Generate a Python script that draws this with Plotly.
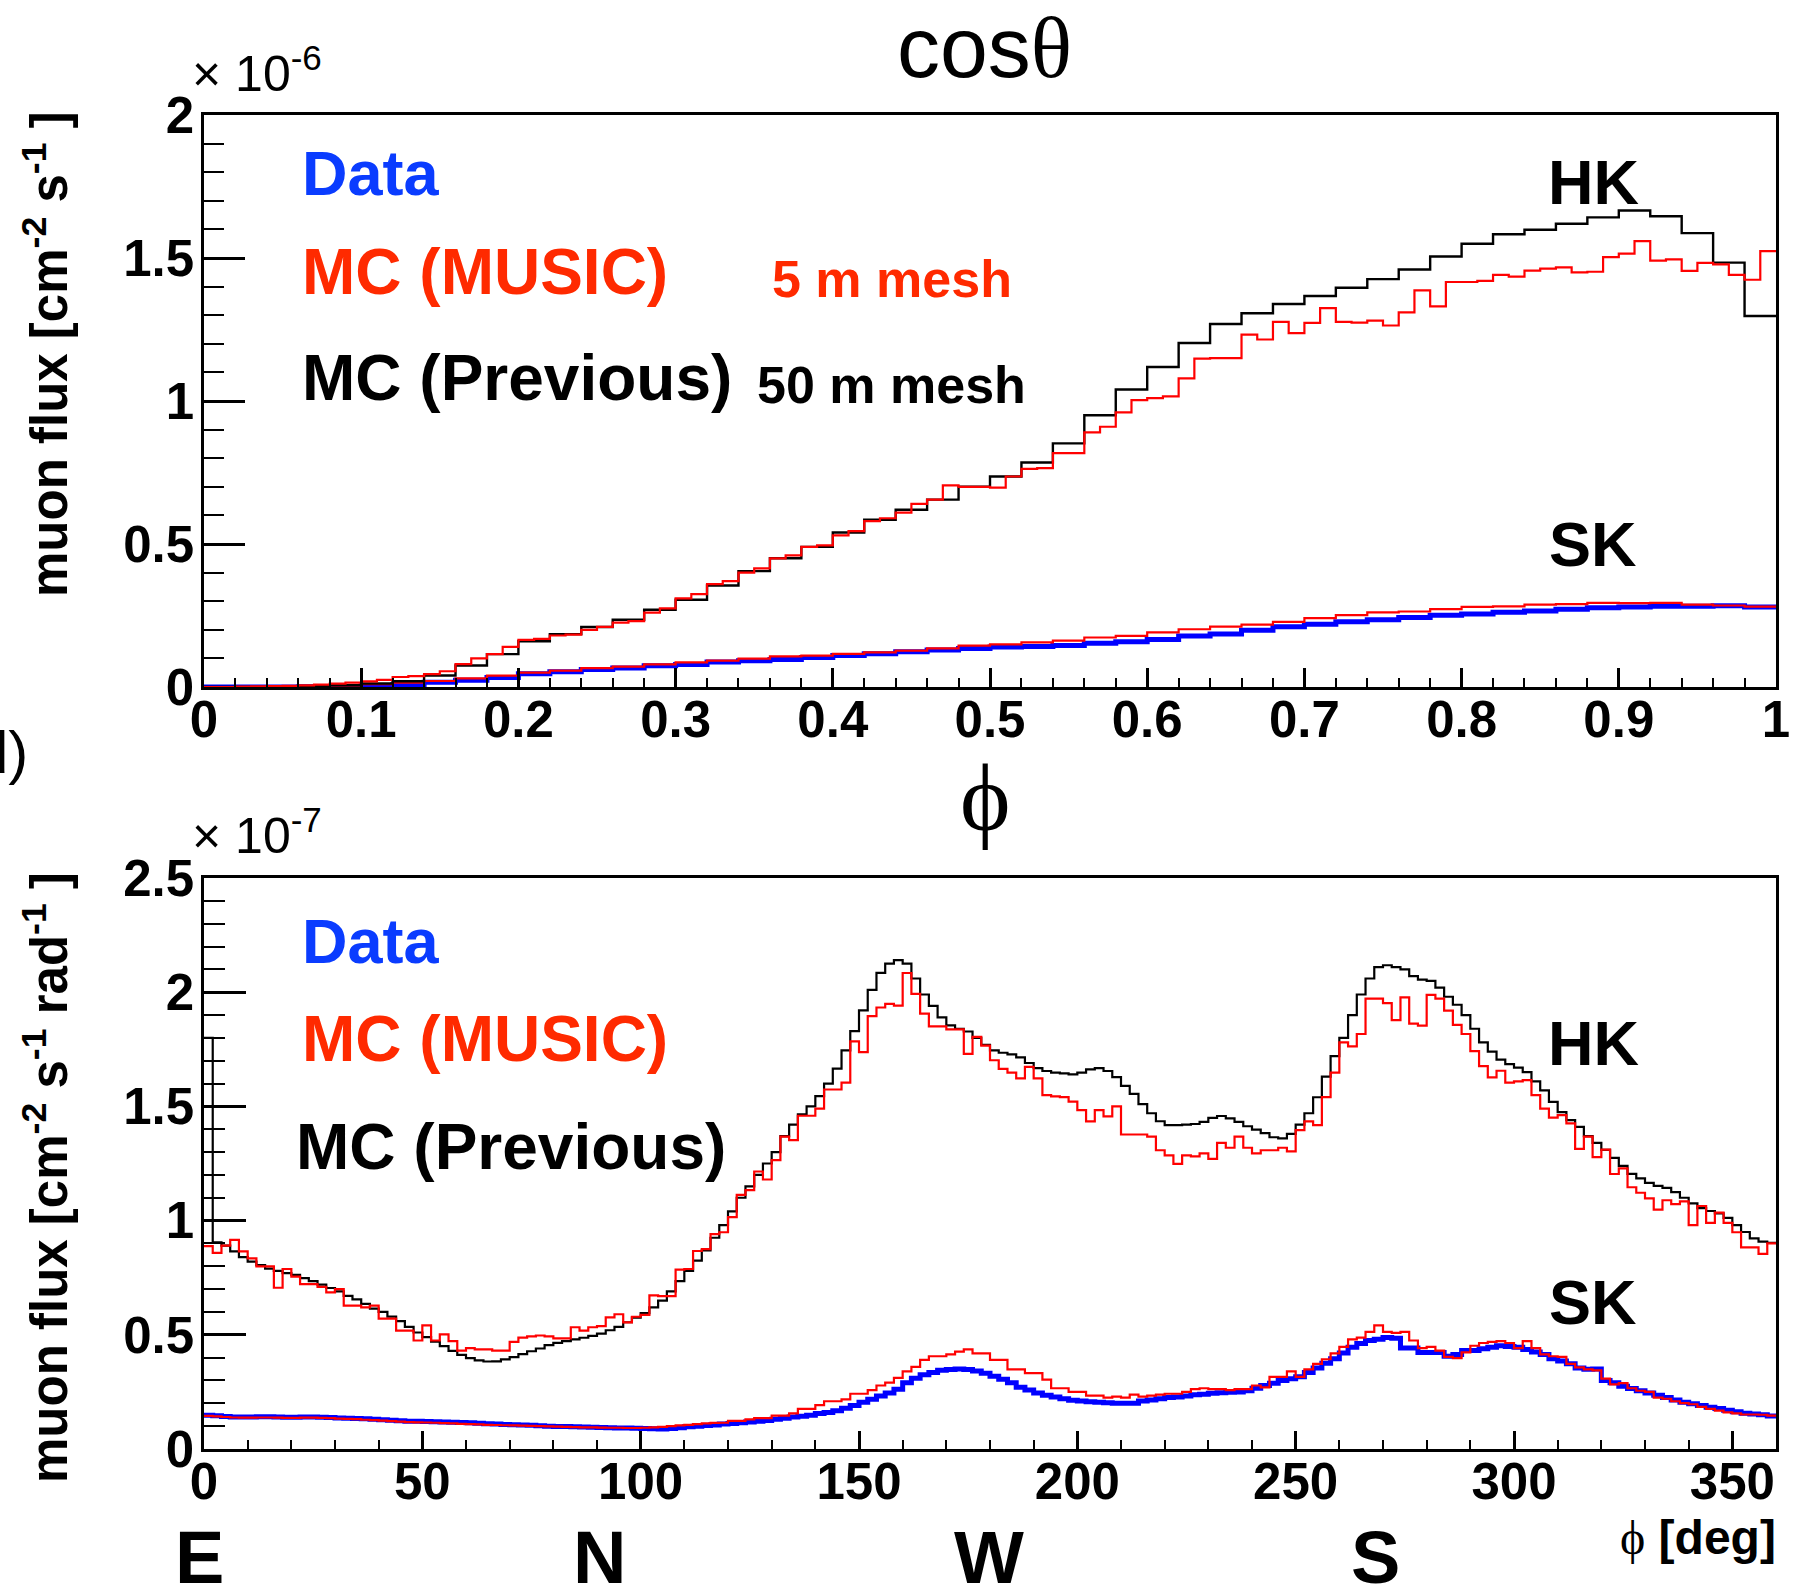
import plotly.graph_objects as go

# ---------------- data : top panel (cos theta), units 1e-6 cm^-2 s^-1 ----------------
cos_hk_prev_lo, cos_hk_prev_w = 0.0, 0.02
cos_hk_prev = [0.0, 0.0, 0.002, 0.004, 0.006, 0.012, 0.02, 0.04, 0.075, 0.115,
               0.16, 0.185, 0.21, 0.235, 0.27, 0.305, 0.355, 0.405, 0.45, 0.49,
               0.54, 0.585, 0.62, 0.655, 0.70, 0.736, 0.785, 0.852, 0.95, 1.04,
               1.119, 1.203, 1.269, 1.307, 1.339, 1.367, 1.396, 1.426, 1.46, 1.505,
               1.55, 1.583, 1.599, 1.62, 1.642, 1.666, 1.646, 1.587, 1.484, 1.297]

cos_hk_music_lo, cos_hk_music_w = 0.0, 0.01
cos_hk_music = [0.0, 0.0, 0.001, 0.002, 0.003, 0.004, 0.006, 0.008, 0.012, 0.015,
                0.02, 0.025, 0.035, 0.038, 0.045, 0.055, 0.08, 0.10, 0.115, 0.14,
                0.165, 0.168, 0.18, 0.183, 0.20, 0.21, 0.225, 0.23, 0.26, 0.275,
                0.31, 0.325, 0.36, 0.37, 0.40, 0.415, 0.45, 0.46, 0.49, 0.495,
                0.53, 0.545, 0.58, 0.59, 0.61, 0.64, 0.655, 0.705, 0.70, 0.70,
                0.697, 0.736, 0.763, 0.765, 0.818, 0.818, 0.89, 0.91, 0.96, 1.003,
                1.01, 1.016, 1.079, 1.148, 1.15, 1.15, 1.232, 1.215, 1.277, 1.237,
                1.273, 1.325, 1.277, 1.274, 1.281, 1.264, 1.31, 1.387, 1.331, 1.416,
                1.416, 1.42, 1.441, 1.435, 1.456, 1.463, 1.467, 1.45, 1.452, 1.503,
                1.515, 1.559, 1.491, 1.495, 1.455, 1.483, 1.478, 1.441, 1.424, 1.524]

cos_sk_data_lo, cos_sk_data_w = 0.0, 0.02
cos_sk_data = [0.0, 0.0, 0.0, 0.001, 0.002, 0.004, 0.008, 0.017, 0.024, 0.033,
               0.046, 0.053, 0.061, 0.066, 0.074, 0.079, 0.087, 0.092, 0.096, 0.103,
               0.11, 0.116, 0.123, 0.129, 0.135, 0.14, 0.142, 0.145, 0.153, 0.158,
               0.166, 0.178, 0.185, 0.198, 0.211, 0.219, 0.228, 0.235, 0.243, 0.251,
               0.255, 0.261, 0.266, 0.272, 0.277, 0.28, 0.282, 0.282, 0.284, 0.28]

cos_sk_music_lo, cos_sk_music_w = 0.0, 0.02
cos_sk_music = [0.0, 0.0, 0.001, 0.002, 0.005, 0.01, 0.015, 0.021, 0.03, 0.04,
                0.05, 0.057, 0.066, 0.071, 0.079, 0.086, 0.092, 0.099, 0.107, 0.11,
                0.116, 0.121, 0.127, 0.135, 0.145, 0.149, 0.156, 0.162, 0.173, 0.179,
                0.191, 0.202, 0.211, 0.218, 0.228, 0.241, 0.251, 0.261, 0.264, 0.272,
                0.28, 0.282, 0.288, 0.29, 0.294, 0.293, 0.294, 0.288, 0.285, 0.281]

# ---------------- data : bottom panel (phi), units 1e-7 cm^-2 s^-1 rad^-1 ----------------
phi_lo, phi_w = 0.0, 2.0
phi_hk_prev = [1.80, 0.905, 0.89, 0.865, 0.84, 0.82, 0.805, 0.79, 0.78, 0.77,
               0.762, 0.748, 0.735, 0.72, 0.705, 0.69, 0.67, 0.655, 0.635, 0.615,
               0.60, 0.58, 0.56, 0.535, 0.51, 0.49, 0.47, 0.45, 0.43, 0.412,
               0.398, 0.388, 0.383, 0.384, 0.392, 0.402, 0.415, 0.428, 0.44, 0.455,
               0.465, 0.472, 0.48, 0.487, 0.495, 0.505, 0.52, 0.535, 0.555, 0.575,
               0.595, 0.62, 0.65, 0.69, 0.735, 0.78, 0.825, 0.87, 0.925, 0.98,
               1.04, 1.10, 1.15, 1.20, 1.25, 1.30, 1.37, 1.42, 1.465, 1.50,
               1.545, 1.60, 1.665, 1.745, 1.83, 1.92, 2.01, 2.085, 2.125, 2.14,
               2.125, 2.06, 1.99, 1.94, 1.89, 1.855, 1.84, 1.828, 1.80, 1.77,
               1.745, 1.735, 1.728, 1.715, 1.69, 1.668, 1.655, 1.648, 1.645, 1.64,
               1.648, 1.662, 1.668, 1.655, 1.628, 1.59, 1.555, 1.51, 1.47, 1.435,
               1.418, 1.418, 1.42, 1.423, 1.432, 1.45, 1.458, 1.448, 1.432, 1.413,
               1.398, 1.383, 1.365, 1.36, 1.38, 1.42, 1.47, 1.54, 1.63, 1.72,
               1.80, 1.90, 1.99, 2.06, 2.11, 2.118, 2.11, 2.10, 2.07, 2.055,
               2.05, 2.02, 1.98, 1.945, 1.90, 1.84, 1.78, 1.74, 1.705, 1.685,
               1.67, 1.65, 1.61, 1.57, 1.52, 1.475, 1.44, 1.41, 1.37, 1.34,
               1.31, 1.275, 1.24, 1.205, 1.185, 1.165, 1.152, 1.143, 1.125, 1.10,
               1.075, 1.055, 1.042, 1.032, 1.012, 0.98, 0.95, 0.922, 0.908, 0.903]

phi_hk_music = [0.888, 0.859, 0.89, 0.916, 0.865, 0.835, 0.80, 0.80, 0.706, 0.788,
                0.755, 0.722, 0.722, 0.71, 0.686, 0.70, 0.628, 0.628, 0.62, 0.628,
                0.571, 0.571, 0.518, 0.518, 0.475, 0.541, 0.475, 0.502, 0.472, 0.431,
                0.442, 0.436, 0.436, 0.431, 0.431, 0.469, 0.488, 0.493, 0.497, 0.493,
                0.484, 0.484, 0.533, 0.518, 0.533, 0.538, 0.576, 0.59, 0.554, 0.579,
                0.587, 0.673, 0.669, 0.669, 0.785, 0.788, 0.867, 0.875, 0.941, 0.949,
                1.015, 1.113, 1.133, 1.215, 1.18, 1.265, 1.368, 1.352, 1.459, 1.459,
                1.49, 1.574, 1.574, 1.604, 1.785, 1.738, 1.895, 1.933, 1.949, 1.941,
                2.084, 1.993, 1.906, 1.85, 1.85, 1.837, 1.837, 1.73, 1.804, 1.766,
                1.702, 1.664, 1.648, 1.623, 1.673, 1.623, 1.549, 1.544, 1.541, 1.521,
                1.484, 1.434, 1.484, 1.456, 1.50, 1.377, 1.377, 1.377, 1.368, 1.308,
                1.286, 1.248, 1.286, 1.281, 1.294, 1.27, 1.34, 1.319, 1.368, 1.319,
                1.294, 1.308, 1.308, 1.319, 1.303, 1.396, 1.434, 1.418, 1.541, 1.648,
                1.78, 1.763, 1.817, 1.972, 1.972, 1.952, 1.878, 1.977, 1.862, 1.854,
                1.988, 1.972, 1.919, 1.857, 1.817, 1.742, 1.676, 1.627, 1.656, 1.604,
                1.61, 1.615, 1.549, 1.49, 1.451, 1.462, 1.426, 1.314, 1.368, 1.278,
                1.311, 1.204, 1.229, 1.146, 1.122, 1.097, 1.048, 1.089, 1.072, 1.084,
                0.98, 1.064, 0.99, 1.035, 0.99, 0.949, 0.883, 0.883, 0.854, 0.90]

phi_sk_data = [0.148, 0.146, 0.142, 0.14, 0.14, 0.14, 0.141, 0.141, 0.14, 0.139,
               0.139, 0.14, 0.14, 0.139, 0.138, 0.136, 0.135, 0.134, 0.132, 0.13,
               0.128, 0.126, 0.124, 0.122, 0.121, 0.12, 0.119, 0.118, 0.117, 0.116,
               0.115, 0.113, 0.111, 0.109, 0.107, 0.106, 0.105, 0.104, 0.102, 0.1,
               0.099, 0.098, 0.097, 0.096, 0.095, 0.094, 0.093, 0.092, 0.092, 0.091,
               0.09, 0.089, 0.088, 0.09, 0.093, 0.097, 0.1, 0.103, 0.105, 0.11,
               0.112, 0.115, 0.118, 0.122, 0.125, 0.13, 0.135, 0.14, 0.143, 0.148,
               0.155, 0.16, 0.168, 0.178, 0.19, 0.205, 0.218, 0.232, 0.245, 0.262,
               0.29, 0.31, 0.325, 0.335, 0.345, 0.348, 0.35, 0.348, 0.342, 0.332,
               0.318, 0.305, 0.29, 0.27, 0.258, 0.245, 0.235, 0.228, 0.22, 0.213,
               0.21, 0.207, 0.205, 0.202, 0.2, 0.2, 0.2, 0.21, 0.215, 0.22,
               0.225, 0.228, 0.232, 0.237, 0.24, 0.244, 0.246, 0.248, 0.25, 0.255,
               0.266, 0.278, 0.288, 0.30, 0.308, 0.316, 0.335, 0.355, 0.375, 0.395,
               0.42, 0.445, 0.462, 0.475, 0.48, 0.488, 0.485, 0.442, 0.442, 0.423,
               0.423, 0.423, 0.406, 0.414, 0.431, 0.431, 0.439, 0.445, 0.452, 0.449,
               0.445, 0.436, 0.425, 0.414, 0.395, 0.385, 0.373, 0.355, 0.349, 0.35,
               0.30, 0.29, 0.275, 0.265, 0.255, 0.245, 0.235, 0.225, 0.215, 0.205,
               0.198, 0.19, 0.183, 0.177, 0.17, 0.163, 0.157, 0.153, 0.15, 0.145]

phi_sk_music = [0.145, 0.143, 0.14, 0.138, 0.137, 0.137, 0.138, 0.138, 0.137, 0.136,
                0.136, 0.137, 0.137, 0.136, 0.135, 0.133, 0.132, 0.131, 0.128, 0.126,
                0.124, 0.122, 0.12, 0.118, 0.117, 0.116, 0.115, 0.113, 0.112, 0.11,
                0.109, 0.108, 0.106, 0.105, 0.104, 0.103, 0.102, 0.101, 0.1, 0.099,
                0.098, 0.097, 0.096, 0.095, 0.095, 0.094, 0.093, 0.093, 0.092, 0.092,
                0.093, 0.095, 0.097, 0.1, 0.103, 0.106, 0.109, 0.112, 0.114, 0.115,
                0.123, 0.123, 0.13, 0.135, 0.135, 0.146, 0.146, 0.156, 0.176, 0.176,
                0.192, 0.209, 0.209, 0.217, 0.242, 0.242, 0.258, 0.278, 0.291, 0.311,
                0.34, 0.36, 0.39, 0.406, 0.406, 0.414, 0.426, 0.436, 0.419, 0.419,
                0.39, 0.39, 0.349, 0.349, 0.332, 0.332, 0.304, 0.266, 0.266, 0.25,
                0.25, 0.234, 0.234, 0.225, 0.229, 0.225, 0.238, 0.229, 0.234, 0.238,
                0.242, 0.242, 0.25, 0.262, 0.266, 0.262, 0.262, 0.258, 0.262, 0.262,
                0.278, 0.27, 0.316, 0.316, 0.34, 0.316, 0.349, 0.373, 0.393, 0.419,
                0.447, 0.48, 0.488, 0.513, 0.541, 0.513, 0.508, 0.513, 0.475, 0.442,
                0.447, 0.431, 0.403, 0.398, 0.423, 0.452, 0.464, 0.469, 0.472, 0.464,
                0.442, 0.472, 0.442, 0.414, 0.406, 0.403, 0.373, 0.357, 0.349, 0.344,
                0.308, 0.283, 0.288, 0.266, 0.255, 0.25, 0.225, 0.22, 0.209, 0.201,
                0.196, 0.184, 0.176, 0.168, 0.16, 0.156, 0.151, 0.151, 0.15, 0.146]

cos_ticks = [0, 0.1, 0.2, 0.3, 0.4, 0.5, 0.6, 0.7, 0.8, 0.9, 1]
cos_ticklabels = ["0", "0.1", "0.2", "0.3", "0.4", "0.5", "0.6", "0.7", "0.8", "0.9", "1"]
top_yticks = [0, 0.5, 1, 1.5, 2]
top_yticklabels = ["0", "0.5", "1", "1.5", "2"]
phi_ticks = [0, 50, 100, 150, 200, 250, 300, 350]
phi_ticklabels = ["0", "50", "100", "150", "200", "250", "300", "350"]
bot_yticks = [0, 0.5, 1, 1.5, 2, 2.5]
bot_yticklabels = ["0", "0.5", "1", "1.5", "2", "2.5"]
directions = ["E", "N", "W", "S"]

# ---------------- styling ----------------
W, H = 1807, 1590
L, R, T, B = 204, 1776, 115, 1449          # plot area in page pixels
FONT = "Liberation Sans"
SERIF = "Liberation Serif"
BLUE_LINE = "#0000ff"
RED_LINE = "#ff0000"
BLUE_TXT = "#0a3cff"
RED_TXT = "#ff2a00"
direction_x_px = [199, 599, 989, 1375]      # label placement under the phi axis


def hist_xy(lo, w, vals):
    xs = [lo + i * w for i in range(len(vals) + 1)]
    ys = list(vals) + [vals[-1]]
    return xs, ys


def px(x, y):
    return (x - L) / (R - L), (B - y) / (B - T)


fig = go.Figure()


def add_hist(lo, w, vals, color, width, xa, ya):
    xs, ys = hist_xy(lo, w, vals)
    fig.add_trace(go.Scatter(x=xs, y=ys, mode="lines", line=dict(color=color, width=width, shape="hv"),
                             xaxis=xa, yaxis=ya, showlegend=False, hoverinfo="skip"))


# top panel
add_hist(cos_sk_data_lo, cos_sk_data_w, cos_sk_data, BLUE_LINE, 5, "x", "y")
add_hist(cos_sk_music_lo, cos_sk_music_w, cos_sk_music, RED_LINE, 2.2, "x", "y")
add_hist(cos_hk_prev_lo, cos_hk_prev_w, cos_hk_prev, "black", 2.4, "x", "y")
add_hist(cos_hk_music_lo, cos_hk_music_w, cos_hk_music, RED_LINE, 2.2, "x", "y")
# bottom panel
add_hist(phi_lo, phi_w, phi_sk_data, BLUE_LINE, 5, "x2", "y2")
add_hist(phi_lo, phi_w, phi_sk_music, RED_LINE, 2.2, "x2", "y2")
add_hist(phi_lo, phi_w, phi_hk_prev, "black", 2.2, "x2", "y2")
add_hist(phi_lo, phi_w, phi_hk_music, RED_LINE, 2.2, "x2", "y2")

top_bottom_px = 687
bot_top_px = 878
top_dom = [(B - top_bottom_px) / (B - T), 1]
bot_dom = [0, (B - bot_top_px) / (B - T)]

tickfont = dict(family=FONT, size=51, color="black", weight="bold")
common = dict(showline=True, mirror=True, linecolor="black", linewidth=2.5, showgrid=False,
              zeroline=False, ticks="inside", tickcolor="black", tickwidth=2.5, tickfont=tickfont,
              tickmode="array")

fig.update_layout(
    width=W, height=H,
    margin=dict(l=L, r=W - R, t=T, b=H - B, pad=0),
    paper_bgcolor="white", plot_bgcolor="white",
    xaxis=dict(common, domain=[0, 1], anchor="y", range=[0, 1], tickvals=cos_ticks, ticktext=cos_ticklabels,
               ticklen=19, minor=dict(dtick=0.02, tick0=0, ticklen=9, ticks="inside", tickwidth=2,
                                      tickcolor="black"), ticklabelstandoff=-14),
    yaxis=dict(common, domain=top_dom, anchor="x", range=[0, 2], tickvals=top_yticks, ticktext=top_yticklabels,
               ticklen=41, minor=dict(dtick=0.1, tick0=0, ticklen=20, ticks="inside", tickwidth=2,
                                      tickcolor="black"), ticklabelstandoff=-3),
    xaxis2=dict(common, domain=[0, 1], anchor="y2", range=[0, 360], tickvals=phi_ticks, ticktext=phi_ticklabels,
                ticklen=18, minor=dict(dtick=10, tick0=0, ticklen=9, ticks="inside", tickwidth=2,
                                       tickcolor="black"), ticklabelstandoff=-14),
    yaxis2=dict(common, domain=bot_dom, anchor="x2", range=[0, 2.5], tickvals=bot_yticks, ticktext=bot_yticklabels,
                ticklen=42, minor=dict(dtick=0.1, tick0=0, ticklen=21, ticks="inside", tickwidth=2,
                                       tickcolor="black"), ticklabelstandoff=-3),
)

anns = []


def ann(text, x, y, size, color="black", bold=True, xanchor="left", yanchor="middle", family=FONT, angle=0):
    xp, yp = px(x, y)
    anns.append(dict(text=text, x=xp, y=yp, xref="paper", yref="paper", xanchor=xanchor, yanchor=yanchor,
                     showarrow=False, textangle=angle,
                     font=dict(family=family, size=size, color=color, weight="bold" if bold else "normal")))


# titles
ann("cos<span style='font-family:Liberation Serif'>θ</span>", 984, 47, 86, bold=False, xanchor="center")
ann("ϕ", 985, 797, 96, bold=False, xanchor="center", family=SERIF)
# exponents
ann("× 10<sup>-6</sup>", 190, 70, 50, bold=False)
ann("× 10<sup>-7</sup>", 190, 832, 50, bold=False)
# y titles
ann("muon flux [cm<sup>-2</sup> s<sup>-1</sup> ]", 46, 354, 51, xanchor="center", angle=-90)
ann("muon flux [cm<sup>-2</sup> s<sup>-1</sup> rad<sup>-1</sup> ]", 46, 1178, 51, xanchor="center", angle=-90)
# legends top
ann("Data", 300, 173, 63, color=BLUE_TXT)
ann("MC (MUSIC)", 300, 272, 64, color=RED_TXT)
ann("MC (Previous)", 300, 378, 64)
ann("5 m mesh", 770, 279, 52, color=RED_TXT)
ann("50 m mesh", 755, 385, 52)
ann("HK", 1593, 182, 63, xanchor="center")
ann("SK", 1593, 544, 63, xanchor="center")
# legends bottom
ann("Data", 300, 941, 63, color=BLUE_TXT)
ann("MC (MUSIC)", 300, 1039, 64, color=RED_TXT)
ann("MC (Previous)", 294, 1147, 64)
ann("HK", 1593, 1043, 63, xanchor="center")
ann("SK", 1593, 1302, 63, xanchor="center")
# compass directions under the phi axis
for d, xd in zip(directions, direction_x_px):
    ann(d, xd, 1557, 74, xanchor="center")
ann("<span style='font-family:Liberation Serif;font-weight:normal'>ϕ</span> [deg]", 1778, 1537, 48,
    xanchor="right")
# panel label fragment at the page edge
ann("(d)", 30, 752, 60, bold=False, xanchor="right")

fig.update_layout(annotations=anns)
fig.write_html("out.html")
